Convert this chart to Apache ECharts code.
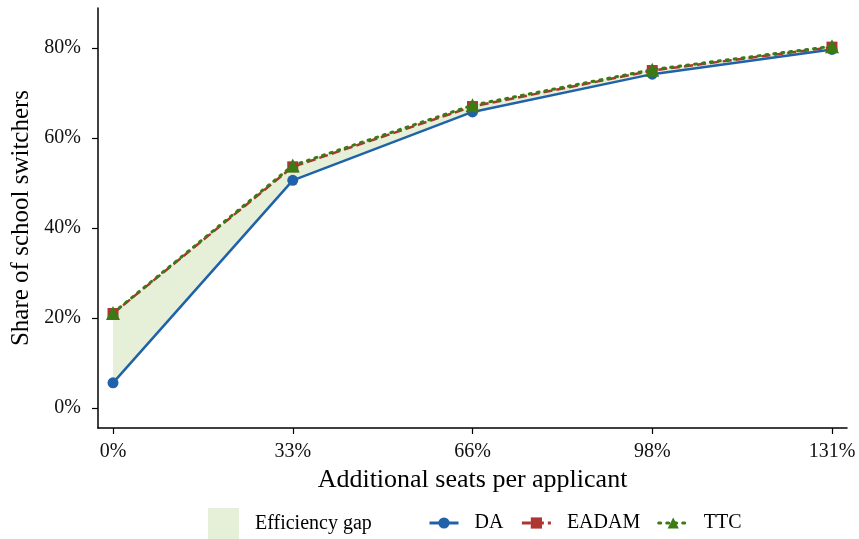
<!DOCTYPE html>
<html><head><meta charset="utf-8">
<script src="https://cdn.jsdelivr.net/npm/echarts@6/dist/echarts.min.js"></script>
<style>html,body{margin:0;padding:0;background:#fff}#c{width:859px;height:539px}</style>
</head><body><div id="c"></div>
<script>
const categories = ['0%','33%','66%','98%','131%'];
const yTicks = [0,20,40,60,80];
const DA = [5.6, 50.6, 65.8, 74.2, 79.7];
const EADAM = [21.0, 53.6, 67.0, 75.0, 80.2];
const TTC = [21.1, 53.9, 67.3, 75.2, 80.4];

const FONT = 'Liberation Serif';
const idx = categories.map((_, i) => i);
const pts = arr => arr.map((v, i) => [i, v]);
const GAP_COLOR = '#e6f0d9';

const chart = echarts.init(document.getElementById('c'));
chart.setOption({
  animation: false,
  backgroundColor: '#fff',
  textStyle: {fontFamily: FONT},
  grid: {left: 98, right: 12, top: 8, bottom: 111},
  xAxis: {
    type: 'value', min: -0.0835, max: 4.0835,
    name: 'Additional seats per applicant', nameLocation: 'middle', nameGap: 37,
    nameTextStyle: {fontFamily: FONT, fontSize: 26, color: '#000'},
    axisLine: {show: true, onZero: false, lineStyle: {color: '#000', width: 1.5}},
    axisTick: {show: true, length: 6, customValues: idx, lineStyle: {color: '#000', width: 1.2}},
    axisLabel: {customValues: idx, formatter: v => categories[Math.round(v)], fontFamily: FONT, fontSize: 20, color: '#111', margin: 14},
    splitLine: {show: false}
  },
  yAxis: {
    type: 'value', min: -4.44, max: 88.9,
    name: 'Share of school switchers', nameLocation: 'middle', nameGap: 63,
    nameTextStyle: {fontFamily: FONT, fontSize: 25, color: '#000'},
    axisLine: {show: true, onZero: false, lineStyle: {color: '#000', width: 1.5}},
    axisTick: {show: true, length: 6, customValues: yTicks, lineStyle: {color: '#000', width: 1.2}},
    axisLabel: {customValues: yTicks, formatter: v => v + '%', fontFamily: FONT, fontSize: 20, color: '#111', margin: 17},
    splitLine: {show: false}
  },
  legend: [{
    top: 508, left: 208, itemWidth: 31, itemHeight: 31, padding: 0,
    textStyle: {fontFamily: FONT, fontSize: 20, color: '#000', padding: [0, 0, 0, 11]},
    data: [{name: 'Efficiency gap', icon: 'rect', itemStyle: {color: GAP_COLOR}}]
  }, {
    top: 513, left: 428, itemWidth: 29, itemHeight: 14, itemGap: 17, padding: 0,
    textStyle: {fontFamily: FONT, fontSize: 20, color: '#000', padding: [0, 0, 0, 11]},
    lineStyle: {width: 3},
    data: ['DA', 'EADAM', 'TTC']
  }],
  series: [
    {name: 'Efficiency gap', type: 'custom', data: [[0, DA[0]]], z: 1,
      itemStyle: {color: GAP_COLOR},
      renderItem: (params, api) => {
        const upper = TTC.map((v, i) => api.coord([i, v]));
        const lower = DA.map((v, i) => api.coord([i, v])).reverse();
        return {type: 'polygon', shape: {points: upper.concat(lower)}, style: {fill: GAP_COLOR}};
      }},
    {name: 'DA', type: 'line', data: pts(DA), symbol: 'circle', symbolSize: 11,
      lineStyle: {color: '#2062aa', width: 2.5}, itemStyle: {color: '#2062aa'}, z: 3},
    {name: 'EADAM', type: 'line', data: pts(EADAM), symbol: 'rect', symbolSize: 11,
      lineStyle: {color: '#ad3532', width: 2.5, type: [9, 4]}, itemStyle: {color: '#ad3532'}, z: 4},
    {name: 'TTC', type: 'line', data: pts(TTC), symbol: 'triangle', symbolSize: 14,
      lineStyle: {color: '#3b7a14', width: 3, type: [2, 6], cap: 'round'}, itemStyle: {color: '#3b7a14'}, z: 5}
  ]
});
</script></body></html>
